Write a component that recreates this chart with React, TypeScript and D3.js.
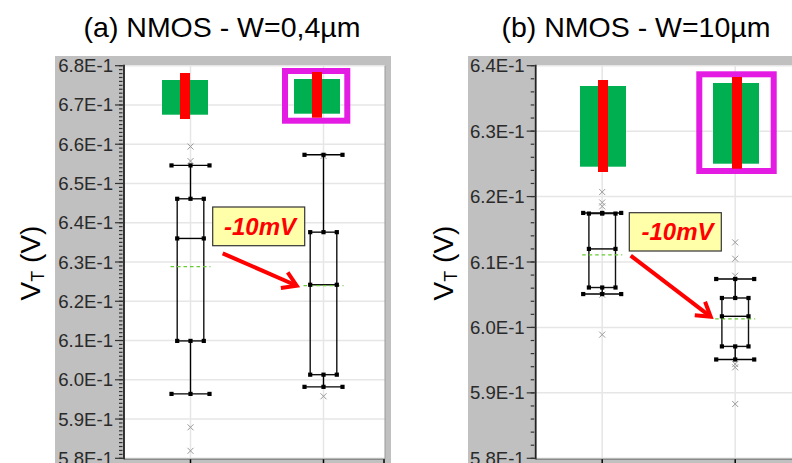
import React from 'react';
import * as d3 from 'd3';

// ---------- DATA ----------
const categories = ['Reference', 'Modified'];
const panelTitles = ['(a) NMOS - W=0,4µm', '(b) NMOS - W=10µm'];
const annotationTexts = ['-10mV', '-10mV'];

// Panel (a)  W = 0.4 µm
const aWhiskerHigh = [0.6546, 0.6573];
const aQ3 = [0.6461, 0.6376];
const aMedian = [0.636, 0.6242];
const aMean = [0.6288, 0.624];
const aQ1 = [0.6099, 0.6013];
const aWhiskerLow = [0.5964, 0.5982];
const aOutliers = [
  [0.6594, 0.6557, 0.5879, 0.5819],
  [0.657, 0.5958],
];
const aTickValues = [0.58, 0.59, 0.6, 0.61, 0.62, 0.63, 0.64, 0.65, 0.66, 0.67, 0.68];

// Panel (b)  W = 10 µm
const bWhiskerHigh = [0.6175, 0.6074];
const bQ3 = [0.6174, 0.6045];
const bMedian = [0.612, 0.6017];
const bMean = [0.6111, 0.6013];
const bQ1 = [0.6061, 0.5971];
const bWhiskerLow = [0.6051, 0.5951];
const bOutliers = [
  [0.6207, 0.6191, 0.6185, 0.605, 0.5989],
  [0.613, 0.6105, 0.6079, 0.5944, 0.5939, 0.5883],
];
const bTickValues = [0.58, 0.59, 0.6, 0.61, 0.62, 0.63, 0.64];

const fmtTick = (v: number) => `${(v * 10).toFixed(1)}E-1`;

// ---------- LAYOUT ----------
const W = 792;
const H = 463;
const PLOT_TOP = 65.7;
const PLOT_BOTTOM = 458.3;
const PLOT_W = 261;
const CAT_STEP = 133;

const FONT = "'Liberation Sans', Arial, Helvetica, sans-serif";
const GRAY = '#c0c0c0';
const GRID = '#e6e6e6';
const GREEN = '#00b050';
const RED = '#ff0000';
const MAGENTA = '#e31be3';

type Icon = {
  green: [number, number, number, number];
  red: [number, number, number, number];
  frame?: [number, number, number, number];
};

const panels = [
  {
    title: panelTitles[0],
    titleX: 222,
    axisX: 124,
    grayX0: 55,
    grayX1: 391,
    yDomain: [0.58, 0.68],
    ticks: aTickValues,
    minorStep: 0.001,
    hi: aWhiskerHigh,
    q3: aQ3,
    med: aMedian,
    mean: aMean,
    q1: aQ1,
    lo: aWhiskerLow,
    out: aOutliers,
    labelX: 40,
    note: {
      text: annotationTexts[0],
      box: [212.7, 207, 92, 38.7],
      textX: 260,
      textY: 235,
      from: [222.7, 253.3],
      to: [296.7, 285.7],
    },
    icons: [
      { green: [162, 80, 46, 34.7], red: [180, 73, 10, 46] },
      { green: [294, 79, 46, 34.7], red: [312, 72, 10, 45.7], frame: [285, 71, 62.3, 49.7] },
    ] as Icon[],
    rightEdge: true,
  },
  {
    title: panelTitles[1],
    titleX: 636,
    axisX: 535.7,
    grayX0: 468,
    grayX1: 800,
    yDomain: [0.58, 0.64],
    ticks: bTickValues,
    minorStep: 0.002,
    hi: bWhiskerHigh,
    q3: bQ3,
    med: bMedian,
    mean: bMean,
    q1: bQ1,
    lo: bWhiskerLow,
    out: bOutliers,
    labelX: 453,
    note: {
      text: annotationTexts[1],
      box: [629.3, 212.7, 92, 38.3],
      textX: 677.5,
      textY: 240,
      from: [630.7, 255.7],
      to: [710.7, 316.7],
    },
    icons: [
      { green: [580, 86, 46, 80.7], red: [598, 80, 10, 92] },
      { green: [713, 83, 46, 80.7], red: [732, 77, 10, 91.7], frame: [699.3, 74.3, 74.4, 96.7] },
    ] as Icon[],
    rightEdge: false,
  },
];

function Panel({ p }: { p: (typeof panels)[number] }) {
  const y = d3.scaleLinear().domain(p.yDomain).range([PLOT_BOTTOM, PLOT_TOP]);
  const x = d3
    .scaleLinear()
    .domain([0.5, 0.5 + PLOT_W / CAT_STEP])
    .range([p.axisX, p.axisX + PLOT_W]);
  const minorTicks = d3
    .range(Math.round((p.yDomain[1] - p.yDomain[0]) / p.minorStep) + 1)
    .map((i) => p.yDomain[0] + i * p.minorStep);

  const capHW = 19;
  const boxHW = 13.3;
  const meanHW = 20;
  const sq = 4.2;

  const dot = (cx: number, cy: number, k: string) => (
    <rect key={k} x={cx - sq / 2} y={cy - sq / 2} width={sq} height={sq} fill="#000" />
  );

  const [fx, fy] = p.note.from;
  const [tx, ty] = p.note.to;
  const ang = Math.atan2(ty - fy, tx - fx);
  const headLen = 16;
  const headAng = (32 * Math.PI) / 180;
  const h1 = [tx - headLen * Math.cos(ang - headAng), ty - headLen * Math.sin(ang - headAng)];
  const h2 = [tx - headLen * Math.cos(ang + headAng), ty - headLen * Math.sin(ang + headAng)];

  return (
    <g>
      {/* gray frame background */}
      <rect x={p.grayX0} y={56} width={p.grayX1 - p.grayX0} height={H - 56} fill={GRAY} />
      {/* plot area */}
      <rect x={p.axisX} y={PLOT_TOP} width={PLOT_W} height={PLOT_BOTTOM - PLOT_TOP} fill="#fff" />
      {/* grid */}
      {p.ticks.map((t) => (
        <line key={'g' + t} x1={p.axisX} x2={p.axisX + PLOT_W} y1={y(t)} y2={y(t)} stroke={GRID} strokeWidth={1.5} />
      ))}
      {categories.map((c, i) => (
        <line key={'vg' + c} x1={x(i + 1)} x2={x(i + 1)} y1={PLOT_TOP} y2={PLOT_BOTTOM} stroke={GRID} strokeWidth={1.5} />
      ))}
      {p.rightEdge && (
        <line x1={p.axisX + PLOT_W} x2={p.axisX + PLOT_W} y1={PLOT_TOP} y2={PLOT_BOTTOM + 1} stroke="#999" strokeWidth={1} />
      )}
      {/* bottom axis */}
      <line x1={p.axisX} x2={p.axisX + PLOT_W} y1={PLOT_BOTTOM + 1} y2={PLOT_BOTTOM + 1} stroke="#8a8a8a" strokeWidth={1.5} />
      {categories.map((c, i) => (
        <line key={'xt' + c} x1={x(i + 1)} x2={x(i + 1)} y1={PLOT_BOTTOM + 1} y2={PLOT_BOTTOM + 6} stroke="#000" strokeWidth={1.5} />
      ))}
      {p.rightEdge && (
        <line x1={p.axisX + PLOT_W - 1} x2={p.axisX + PLOT_W - 1} y1={PLOT_BOTTOM + 1} y2={PLOT_BOTTOM + 6} stroke="#000" strokeWidth={1.5} />
      )}
      {/* y axis */}
      <line x1={p.axisX} x2={p.axisX} y1={PLOT_TOP - 1} y2={PLOT_BOTTOM + 1} stroke="#222" strokeWidth={1.8} />
      {minorTicks.map((t, i) => (
        <line key={'mt' + i} x1={p.axisX - 5} x2={p.axisX - 1.5} y1={y(t)} y2={y(t)} stroke="#333" strokeWidth={1.2} />
      ))}
      {p.ticks.map((t) => (
        <g key={'t' + t}>
          <line x1={p.axisX - 9} x2={p.axisX} y1={y(t)} y2={y(t)} stroke="#333" strokeWidth={1.2} />
          <text x={p.axisX - 11} y={y(t) + 6.5} textAnchor="end" fontFamily={FONT} fontSize={18.6} fill="#2a2a2a">
            {fmtTick(t)}
          </text>
        </g>
      ))}
      {/* icons */}
      {p.icons.map((ic, i) => (
        <g key={'ic' + i}>
          {ic.frame && (
            <rect x={ic.frame[0]} y={ic.frame[1]} width={ic.frame[2]} height={ic.frame[3]} fill="none" stroke={MAGENTA} strokeWidth={6} />
          )}
          <rect x={ic.green[0]} y={ic.green[1]} width={ic.green[2]} height={ic.green[3]} fill={GREEN} />
          <rect x={ic.red[0]} y={ic.red[1]} width={ic.red[2]} height={ic.red[3]} fill={RED} />
        </g>
      ))}
      {/* boxes */}
      {categories.map((c, i) => {
        const cx = x(i + 1);
        const yHi = y(p.hi[i]);
        const yQ3 = y(p.q3[i]);
        const yMed = y(p.med[i]);
        const yQ1 = y(p.q1[i]);
        const yLo = y(p.lo[i]);
        const yMean = y(p.mean[i]);
        return (
          <g key={'box' + c}>
            {p.out[i].map((o, j) => {
              const oy = y(o);
              return (
                <path
                  key={'o' + j}
                  d={`M${cx - 3},${oy - 3}L${cx + 3},${oy + 3}M${cx - 3},${oy + 3}L${cx + 3},${oy - 3}`}
                  stroke="#9a9a9a"
                  strokeWidth={1}
                />
              );
            })}
            <line x1={cx} x2={cx} y1={yHi} y2={yQ3} stroke="#000" strokeWidth={1.4} />
            <line x1={cx} x2={cx} y1={yQ1} y2={yLo} stroke="#000" strokeWidth={1.4} />
            <line x1={cx - capHW} x2={cx + capHW} y1={yHi} y2={yHi} stroke="#000" strokeWidth={1.4} />
            <line x1={cx - capHW} x2={cx + capHW} y1={yLo} y2={yLo} stroke="#000" strokeWidth={1.4} />
            <rect x={cx - boxHW} y={yQ3} width={boxHW * 2} height={yQ1 - yQ3} fill="none" stroke="#111" strokeWidth={1.4} />
            <line x1={cx - boxHW} x2={cx + boxHW} y1={yMed} y2={yMed} stroke="#000" strokeWidth={1.4} />
            <line
              x1={cx - meanHW}
              x2={cx + meanHW}
              y1={yMean}
              y2={yMean}
              stroke="#66cc33"
              strokeWidth={1.2}
              strokeDasharray="3.5,3"
            />
            {dot(cx - capHW, yHi, 'd1')}
            {dot(cx, yHi, 'd2')}
            {dot(cx + capHW, yHi, 'd3')}
            {dot(cx - capHW, yLo, 'd4')}
            {dot(cx, yLo, 'd5')}
            {dot(cx + capHW, yLo, 'd6')}
            {dot(cx - boxHW, yQ3, 'd7')}
            {dot(cx, yQ3, 'd8')}
            {dot(cx + boxHW, yQ3, 'd9')}
            {dot(cx - boxHW, yQ1, 'd10')}
            {dot(cx, yQ1, 'd11')}
            {dot(cx + boxHW, yQ1, 'd12')}
            {dot(cx - boxHW, yMed, 'd13')}
            {dot(cx + boxHW, yMed, 'd14')}
          </g>
        );
      })}
      {/* annotation */}
      <rect
        x={p.note.box[0]}
        y={p.note.box[1]}
        width={p.note.box[2]}
        height={p.note.box[3]}
        fill="#ffffaa"
        stroke="#333"
        strokeWidth={1.2}
      />
      <text
        x={p.note.textX}
        y={p.note.textY}
        textAnchor="middle"
        fontFamily={FONT}
        fontWeight="bold"
        fontStyle="italic"
        fontSize={24}
        fill={RED}
      >
        {p.note.text}
      </text>
      <line x1={fx} y1={fy} x2={tx - 3 * Math.cos(ang)} y2={ty - 3 * Math.sin(ang)} stroke={RED} strokeWidth={4} />
      <polyline
        points={`${h1[0]},${h1[1]} ${tx},${ty} ${h2[0]},${h2[1]}`}
        fill="none"
        stroke={RED}
        strokeWidth={4}
        strokeLinejoin="miter"
      />
      {/* title */}
      <text x={p.titleX} y={36.5} textAnchor="middle" fontFamily={FONT} fontSize={28.5} fill="#000">
        {p.title}
      </text>
      {/* y label */}
      <text
        transform={`translate(${p.labelX},263) rotate(-90)`}
        textAnchor="middle"
        fontFamily={FONT}
        fontSize={28}
        fill="#000"
      >
        V<tspan fontSize={18} dy={4}>T</tspan>
        <tspan dy={-4}> (V)</tspan>
      </text>
    </g>
  );
}

export default function App() {
  return (
    <svg
      width={W}
      height={H}
      viewBox={`0 0 ${W} ${H}`}
      style={{ position: 'absolute', left: 0, top: 0, display: 'block', background: '#fff' }}
    >
      <rect x={0} y={0} width={W} height={H} fill="#fff" />
      {panels.map((p, i) => (
        <Panel key={i} p={p} />
      ))}
    </svg>
  );
}
